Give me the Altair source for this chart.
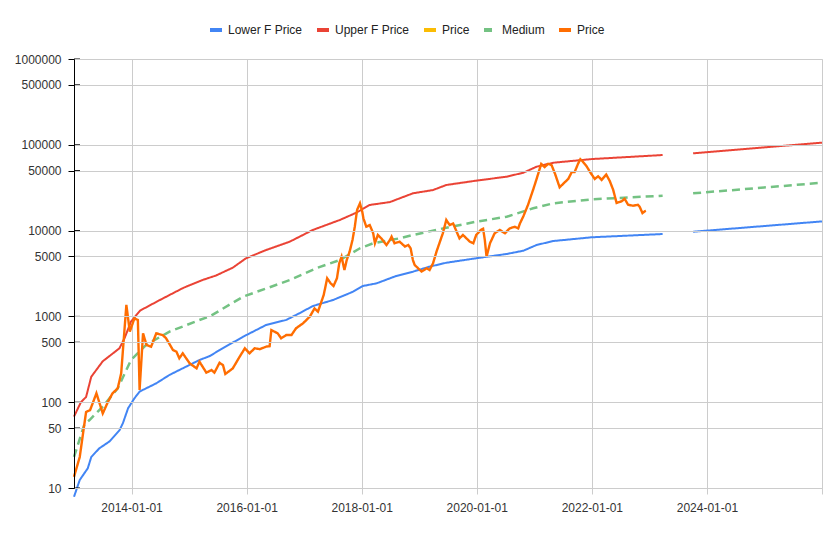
import altair as alt
import pandas as pd

# ---- data (decimal year, value) ----
price_t = [2013.00, 2013.10, 2013.15, 2013.21, 2013.28, 2013.39, 2013.50, 2013.59, 2013.67, 2013.76,
           2013.82, 2013.91, 2013.97, 2014.05, 2014.11, 2014.14, 2014.20, 2014.26, 2014.34, 2014.43,
           2014.54, 2014.60, 2014.72, 2014.78, 2014.83, 2014.89, 2015.01, 2015.13, 2015.18, 2015.30,
           2015.39, 2015.44, 2015.53, 2015.59, 2015.63, 2015.76, 2015.88, 2015.97, 2016.05, 2016.14,
           2016.23, 2016.34, 2016.40, 2016.43, 2016.54, 2016.60, 2016.69, 2016.78, 2016.86, 2016.98,
           2017.10, 2017.18, 2017.24, 2017.28, 2017.34, 2017.40, 2017.46, 2017.51, 2017.57, 2017.61,
           2017.65, 2017.70, 2017.74, 2017.79, 2017.84, 2017.88, 2017.92, 2017.97, 2018.01, 2018.03,
           2018.08, 2018.14, 2018.20, 2018.23, 2018.28, 2018.34, 2018.43, 2018.49, 2018.52, 2018.57,
           2018.66, 2018.75, 2018.81, 2018.85, 2018.89, 2018.92, 2018.98, 2019.04, 2019.13, 2019.18,
           2019.24, 2019.30, 2019.36, 2019.41, 2019.47, 2019.53, 2019.59, 2019.65, 2019.70, 2019.76,
           2019.82, 2019.88, 2019.94, 2019.99, 2020.07, 2020.11, 2020.14, 2020.17, 2020.23, 2020.31,
           2020.40, 2020.49, 2020.57, 2020.66, 2020.72, 2020.75, 2020.81, 2020.89, 2020.98, 2021.04,
           2021.12, 2021.18, 2021.24, 2021.30, 2021.36, 2021.44, 2021.50, 2021.59, 2021.65, 2021.70,
           2021.76, 2021.80, 2021.84, 2021.91, 2021.97, 2022.05, 2022.11, 2022.17, 2022.25, 2022.31,
           2022.37, 2022.43, 2022.52, 2022.57, 2022.63, 2022.72, 2022.80, 2022.83, 2022.88, 2022.92,
           2022.94]
price_v = [13.5, 23, 40, 77, 81, 127, 74, 101, 127, 145,
           217, 1360, 663, 950, 908, 139, 635, 464, 444, 635,
           607, 556, 406, 388, 325, 371, 284, 248, 297, 221,
           237, 221, 288, 270, 213, 248, 340, 425, 371, 425,
           415, 444, 450, 693, 635, 556, 607, 607, 728, 830,
           996, 1240, 1135, 1360, 1780, 2780, 2430, 2260, 2780, 4160,
           4970, 3470, 4540, 5680, 7760, 11100, 17400, 20800, 16600, 13900,
           11100, 11600, 9300, 7120, 8890, 8130, 6790, 7760, 8500, 7120,
           7430, 6530, 6790, 6220, 4540, 3980, 3640, 3330, 3640, 3470,
           4160, 5680, 7430, 9300, 13300, 11600, 12100, 9700, 8130, 8890,
           8130, 7430, 7120, 8890, 10170, 10500, 7760, 4970, 7120, 9300,
           10170, 9300, 10600, 11100, 10600, 12100, 14700, 19900, 30000, 40000,
           60000, 55000, 60000, 58000, 46000, 32000, 35000, 40000, 48000, 48000,
           60000, 68000, 64000, 56000, 48000, 40000, 43000, 39000, 45000, 38000,
           30000, 21000, 22000, 23500, 20000, 19500, 20000, 19000, 16000, 16800,
           17000]

upper_t = [2013.00, 2013.12, 2013.21, 2013.30, 2013.50, 2013.79, 2013.88, 2013.99, 2014.15, 2014.49,
           2014.90, 2015.23, 2015.47, 2015.76, 2015.99, 2016.34, 2016.75, 2017.15, 2017.62, 2017.91,
           2018.14, 2018.49, 2018.89, 2019.24, 2019.47, 2019.99, 2020.52, 2020.81, 2021.04, 2021.33,
           2022.00, 2023.23, 2023.76, 2026.00]
upper_v = [68, 100, 115, 198, 300, 425, 560, 870, 1170, 1550,
           2150, 2650, 3000, 3700, 4760, 5940, 7430, 10170, 13300, 16200,
           19900, 21500, 27200, 29700, 34000, 38200, 42500, 47300, 55600, 61800,
           68200, 76000, 79600, 106000]

lower_t = [2013.00, 2013.10, 2013.24, 2013.30, 2013.44, 2013.62, 2013.79, 2013.85, 2013.94, 2014.05,
           2014.14, 2014.43, 2014.66, 2014.95, 2015.18, 2015.36, 2015.53, 2015.94, 2016.34, 2016.69,
           2016.92, 2017.15, 2017.50, 2017.85, 2018.02, 2018.26, 2018.60, 2018.89, 2019.18, 2019.47,
           2019.99, 2020.52, 2020.81, 2021.04, 2021.33, 2022.00, 2023.23, 2023.76, 2026.00]
lower_v = [7.9, 12.4, 17, 23, 29, 35, 47, 57, 85, 111,
           133, 166, 208, 260, 310, 345, 405, 580, 795, 910,
           1090, 1320, 1550, 1940, 2260, 2430, 2960, 3320, 3800, 4220,
           4760, 5340, 5830, 6800, 7560, 8360, 9120, 9700, 12800]

medium_t = [2013.00, 2013.18, 2013.27, 2013.50, 2013.76, 2013.99, 2014.26, 2014.66, 2015.18, 2015.36,
            2015.94, 2016.75, 2017.21, 2017.62, 2017.97, 2018.20, 2018.66, 2018.89, 2019.47, 2019.99,
            2020.52, 2020.98, 2021.33, 2022.02, 2023.23, 2023.76, 2026.00]
medium_v = [23, 55, 62, 89, 145, 310, 470, 664, 908, 1000,
            1700, 2650, 3640, 4540, 6220, 7120, 8130, 8890, 10800, 12700,
            14500, 18200, 20800, 23200, 25500, 27200, 36100]

keys = ["lower", "upper", "price_y", "medium", "price"]
names = ["Lower F Price", "Upper F Price", "Price", "Medium", "Price"]
colors = ["#4285F4", "#EA4335", "#FBBC04", "#74C283", "#FF6D01"]
dashes = [[1, 0], [1, 0], [1, 0], [8, 5], [1, 0]]

y_ticks = [10, 50, 100, 500, 1000, 5000, 10000, 50000, 100000, 500000, 1000000]
x_ticks = [2014, 2016, 2018, 2020, 2022, 2024, 2026]

rows = []
for key, ts, vs in [("lower", lower_t, lower_v), ("upper", upper_t, upper_v),
                    ("medium", medium_t, medium_v), ("price", price_t, price_v)]:
    for t, v in zip(ts, vs):
        rows.append({"t": t, "v": v, "key": key, "seg": 1 if t < 2023.5 else 2})
df = pd.DataFrame(rows)

label_expr = ("datum.value == 'lower' ? 'Lower F Price' : datum.value == 'upper' ? 'Upper F Price' : "
              "datum.value == 'medium' ? 'Medium' : 'Price'")

legend = alt.Legend(orient="none", legendX=134, legendY=-37, direction="horizontal", title=None,
                    symbolType="stroke", symbolStrokeWidth=4, symbolSize=144, labelFontSize=12,
                    labelOffset=4, columnPadding=6, padding=0, labelExpr=label_expr,
                    labelColor="#222", labelFont="Liberation Sans")

xscale = alt.Scale(domain=[2013, 2026], nice=False, zero=False)
yscale = alt.Scale(type="log", domain=[10, 1000000], nice=False)

xaxis = alt.Axis(values=x_ticks, labelExpr="datum.value >= 2026 ? '' : datum.value + '-01-01'",
                 title=None, grid=True, gridColor="#cccccc", domainColor="#cccccc", tickColor="#cccccc",
                 tickSize=6, labelPadding=8, labelFontSize=12, labelColor="#333", labelFont="Liberation Sans",
                 labelFlush=False, labelOverlap=False)
yaxis = alt.Axis(values=y_ticks, format="d", title=None, grid=True, gridColor="#cccccc",
                 domainColor="black", tickColor="black", tickSize=6, labelPadding=7, labelFontSize=12,
                 labelColor="#333", labelFont="Liberation Sans", labelOverlap=False, zindex=1)

base = alt.Chart(df).encode(
    x=alt.X("t:Q", scale=xscale, axis=xaxis),
    y=alt.Y("v:Q", scale=yscale, axis=yaxis),
    color=alt.Color("key:N", scale=alt.Scale(domain=keys, range=colors), legend=legend),
    strokeDash=alt.StrokeDash("key:N", scale=alt.Scale(domain=keys, range=dashes), legend=legend),
    detail="seg:N",
)

layers = []
for k, w in [("lower", 2), ("upper", 2), ("medium", 2.5), ("price", 2.4)]:
    layers.append(base.transform_filter(alt.datum.key == k).mark_line(strokeWidth=w))

inner_ticks = alt.Chart(pd.DataFrame({"v": y_ticks})).mark_rule(color="black", strokeWidth=1).encode(
    y=alt.Y("v:Q", scale=yscale, axis=yaxis),
    x=alt.value(0),
    x2=alt.value(6),
)

chart = alt.layer(*layers, inner_ticks).properties(
    width=748, height=429,
    padding={"left": 66, "top": 51, "right": 1, "bottom": 36},
    autosize=alt.AutoSizeParams(type="none"),
).configure_view(stroke=None).configure(background="white")

chart.save("out.html", embed_options={"renderer": "svg", "actions": False})
